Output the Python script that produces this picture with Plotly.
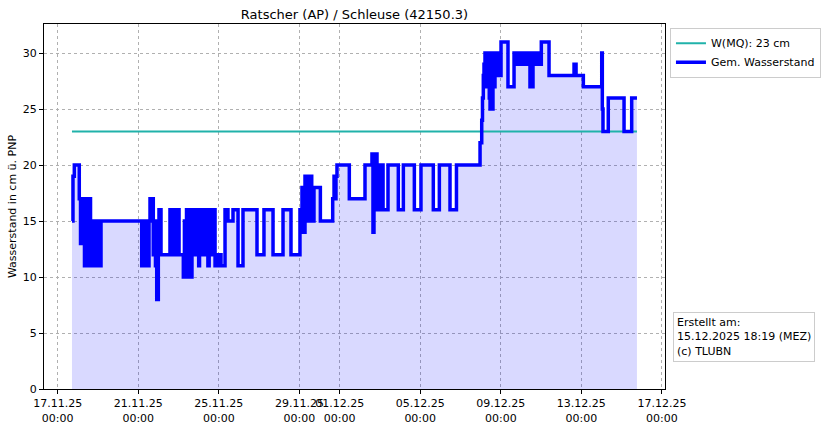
import pandas as pd
import plotly.graph_objects as go

# hours since 17.11.2025 00:00 and measured water level (cm)
hours = [
    17.0, 18.2, 19.8, 25.7, 27.2, 28.4, 29.6, 30.7, 31.9, 33.1, 34.3, 35.5, 36.7, 37.9, 39.1, 40.0, 41.5, 42.7, 44.5, 45.4, 48.0, 49.0, 51.6,
    100.1, 103.2, 106.1, 108.8, 110.0, 113.9, 115.4, 116.5, 118.0, 119.9, 120.7, 123.1, 133.8, 137.0, 140.6, 144.6,
    149.7, 151, 152, 153.5, 154.5, 155.5, 156.5, 158, 159, 160, 161, 162.5, 163.5, 164.5, 165.5, 167, 168, 169, 170, 171.5, 172.5, 173.5,
    174.5, 176, 177, 178, 179, 180.5, 181.5, 182.5, 183.5, 185,
    187.5, 189.8, 191.0, 193.4, 194.6, 199.4, 202.9, 208.9, 214.9, 220.8, 237.5, 245.8, 256.6, 268.5, 278.0, 288.7,
    291.1, 292.3, 294.7, 295.9, 297.1, 298.3, 299.5, 302.7, 303.6, 304.2, 305.4, 313.0,
    327.7, 329.3, 330.5, 331.6, 332.8, 347.5, 366.2, 374.5, 375.7, 376.9, 378.1, 379.3, 380.5, 381.7, 382.9, 384.1, 385.3, 386.5, 387.7,
    393.6, 405.9, 411.9, 425.0, 432.9, 447.6, 454.8, 467.5, 475.2,
    503.3, 505.3, 506.2, 507.2, 508.0, 509.2, 510.4, 511.6, 512.4, 513.4, 514.3, 515.2, 516.4, 517.6, 518.7, 519.9, 521.1, 522.3, 523.5,
    524.7, 525.9, 527.1, 528.3, 536.6, 543.8, 545.6, 546.8, 547.9, 549.7, 550.9, 553.3, 554.5, 556.9, 559.3, 560.4, 562.8, 566.4, 568.2,
    570.0, 571.2, 573.0, 574.2, 576.3, 585.5, 615.3, 617.7, 626.4, 648.3, 649.0, 649.8, 656.1, 674.9, 684.0, 690.3,
]
levels = [
    15, 19, 20, 17, 13, 17, 13, 17, 11, 17, 13, 17, 11, 17, 15, 11, 15, 11, 15, 11, 15, 11, 15,
    11, 15, 11, 15, 17, 12, 15, 11, 8, 12, 16, 12, 16, 12, 16, 12,
    10, 15, 10, 16, 10, 15, 10, 16, 10, 15, 12, 16, 12, 16, 13, 16, 11, 16, 12, 16, 15, 16,
    12, 16, 14, 16, 11, 16, 15, 16, 12, 16,
    11, 12, 11, 12, 11, 16, 15, 16, 11, 16, 12, 16, 12, 16, 12, 16,
    18, 14, 19, 15, 19, 15, 19, 15, 18, 15, 18, 15,
    17, 19, 17, 19, 20, 17, 20, 21, 14, 21, 16, 21, 17, 20, 16, 20, 16, 20, 16,
    20, 16, 20, 16, 20, 16, 20, 16, 20,
    22, 24, 26, 28, 29, 30, 27, 30, 28, 30, 26, 25, 30, 25, 29, 27, 30, 28, 30,
    29, 30, 28, 31, 27, 30, 29, 30, 29, 30, 29, 30, 29, 30, 29, 30, 27, 30, 29,
    30, 29, 30, 29, 31, 28, 29, 28, 27, 30, 25, 23, 26, 23, 26, 26,
]
mq_value = 23
mq_label = "W(MQ): 23 cm"
series_label = "Gem. Wasserstand"
tick_dates = ["2025-11-17", "2025-11-21", "2025-11-25", "2025-11-29", "2025-12-01",
              "2025-12-05", "2025-12-09", "2025-12-13", "2025-12-17"]
tick_labels = ["17.11.25<br>00:00", "21.11.25<br>00:00", "25.11.25<br>00:00", "29.11.25<br>00:00",
               "01.12.25<br>00:00", "05.12.25<br>00:00", "09.12.25<br>00:00", "13.12.25<br>00:00",
               "17.12.25<br>00:00"]
y_ticks = [0, 5, 10, 15, 20, 25, 30]

t0 = pd.Timestamp("2025-11-17 00:00")
times = [t0 + pd.Timedelta(hours=h) for h in hours]

FONT = "DejaVu Sans"
fig = go.Figure()
fig.add_trace(go.Scatter(x=times, y=levels, mode="lines", line=dict(shape="hv", width=0),
                         fill="tozeroy", fillcolor="rgba(0,0,255,0.15)", showlegend=False,
                         hoverinfo="skip"))
fig.add_trace(go.Scatter(x=[times[0], times[-1]], y=[mq_value, mq_value], mode="lines",
                         line=dict(color="#20b2aa", width=2), name=mq_label))
fig.add_trace(go.Scatter(x=times, y=levels, mode="lines", line=dict(shape="hv", color="#0000ff", width=3.5),
                         name=series_label))

fig.update_layout(
    width=822, height=426,
    margin=dict(l=44, r=157, t=24, b=37, autoexpand=False),
    paper_bgcolor="white", plot_bgcolor="white",
    font=dict(family=FONT, size=11, color="black"),
    title=dict(text="Ratscher (AP) / Schleuse (42150.3)", x=(44 + 665) / 2 / 822, xanchor="center",
               y=1 - 14 / 426, yanchor="middle", font=dict(size=13, family=FONT)),
    legend=dict(x=1.008, y=0.99, xanchor="left", yanchor="top", bordercolor="#cccccc", borderwidth=1,
                bgcolor="white", font=dict(size=11, family=FONT), itemwidth=30, tracegroupgap=0),
    showlegend=True,
)
fig.update_xaxes(
    type="date", automargin=False,
    range=[pd.Timestamp("2025-11-16 07:40"), pd.Timestamp("2025-12-17 03:42")],
    tickvals=tick_dates, ticktext=tick_labels, tickangle=0,
    ticks="outside", ticklen=4, tickcolor="black",
    showline=True, linecolor="black", linewidth=1, mirror=True,
    showgrid=True, gridcolor="#b0b0b0", griddash="3px,3px", gridwidth=1,
    zeroline=False, tickfont=dict(size=11),
)
fig.update_yaxes(
    automargin=False,
    range=[0, 32.6], tickvals=y_ticks,
    ticks="outside", ticklen=4, tickcolor="black",
    showline=True, linecolor="black", linewidth=1, mirror=True,
    showgrid=True, gridcolor="#b0b0b0", griddash="3px,3px", gridwidth=1,
    zeroline=False, tickfont=dict(size=11),
    title=dict(text="Wasserstand in cm ü. PNP", font=dict(size=11), standoff=3),
)
fig.add_annotation(
    xref="paper", yref="paper", x=1.0129, y=0.211, xanchor="left", yanchor="top",
    text="Erstellt am:<br>15.12.2025 18:19 (MEZ)<br>(c) TLUBN", align="left", showarrow=False,
    bordercolor="#cccccc", borderwidth=1, borderpad=3, bgcolor="white",
    font=dict(size=11, family=FONT),
)
fig.write_html("out.html", config={"displayModeBar": False},
               post_script="document.body.style.margin='0px';")
